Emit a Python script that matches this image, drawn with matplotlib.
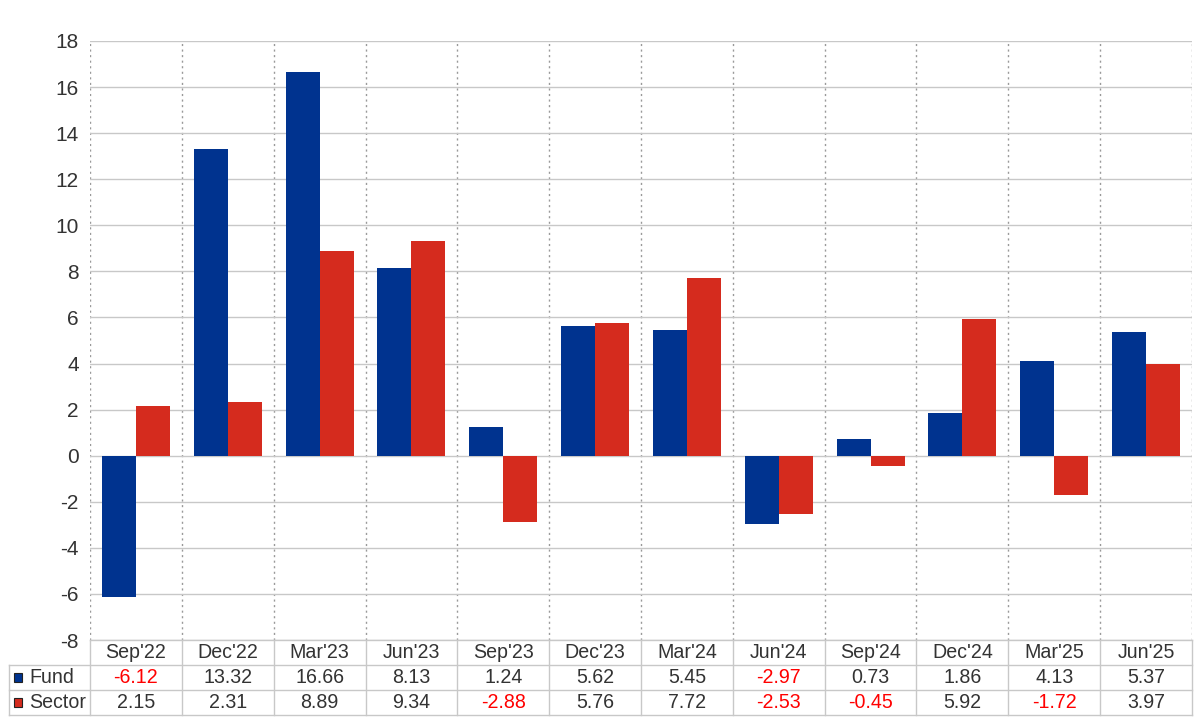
import matplotlib.pyplot as plt
from matplotlib.patches import Rectangle
import numpy as np

plt.rcParams['font.family'] = ['Liberation Sans', 'DejaVu Sans']
plt.rcParams['axes.unicode_minus'] = False

quarters = ["Sep'22", "Dec'22", "Mar'23", "Jun'23", "Sep'23", "Dec'23",
            "Mar'24", "Jun'24", "Sep'24", "Dec'24", "Mar'25", "Jun'25"]
fund = [-6.12, 13.32, 16.66, 8.13, 1.24, 5.62, 5.45, -2.97, 0.73, 1.86, 4.13, 5.37]
sector = [2.15, 2.31, 8.89, 9.34, -2.88, 5.76, 7.72, -2.53, -0.45, 5.92, -1.72, 3.97]
series_names = ['Fund', 'Sector']
series_colors = ['#00338f', '#d52b1e']

grid_col = '#c8c8c8'
text_col = '#333333'
fs = 14.1

fig = plt.figure(figsize=(12, 7.2), dpi=100)
ax = fig.add_axes([90 / 1200, 80 / 720, 1102 / 1200, 599 / 720])

x = np.arange(len(quarters))
w = 0.37
ax.bar(x - w / 2, fund, w, color=series_colors[0], zorder=3)
ax.bar(x + w / 2, sector, w, color=series_colors[1], zorder=3)

ax.set_xlim(-0.5, len(quarters) - 0.5)
ax.set_ylim(-8, 18)
ax.set_yticks(np.arange(-8, 19, 2))
ax.set_xticks([])
ax.set_xticks(np.arange(-0.5, len(quarters)), minor=True)
ax.tick_params(axis='y', length=0, pad=8, labelsize=15, labelcolor=text_col)
ax.tick_params(axis='x', which='minor', length=0)
ax.grid(axis='y', color=grid_col, linewidth=1, zorder=0)
ax.grid(axis='x', which='minor', color='#999999', linestyle=(0, (1.5, 2.5)), linewidth=1, zorder=0)
for s in ax.spines.values():
    s.set_visible(False)

# table under the plot
tax = fig.add_axes([90 / 1200, 5 / 720, 1102 / 1200, 75 / 720])
tax.set_xlim(-0.5, len(quarters) - 0.5)
tax.set_ylim(0, 3)
tax.set_axis_off()
lab_left = -0.5 - 81 / (1102 / 12)

for i, q in enumerate(quarters):
    tax.text(i, 2.5, q, ha='center', va='center', fontsize=fs, color=text_col)
rows = [fund, sector]
for r, vals in enumerate(rows):
    yc = 1.5 - r
    for i, v in enumerate(vals):
        tax.text(i, yc, f'{v:.2f}', ha='center', va='center', fontsize=fs,
                 color='#ff0000' if v < 0 else text_col)
    tax.add_patch(Rectangle((lab_left + 0.055, yc - 0.17), 0.09, 0.34,
                            facecolor=series_colors[r], edgecolor='#222222',
                            linewidth=0.8, clip_on=False))
    tax.text(lab_left + 0.22, yc, series_names[r], ha='left', va='center',
             fontsize=fs, color=text_col, clip_on=False)

lkw = dict(color=grid_col, linewidth=1, clip_on=False)
tax.plot([-0.5, 11.5], [3, 3], **lkw)
for yy in [2, 1, 0]:
    tax.plot([lab_left, 11.5], [yy, yy], **lkw)
for xb in np.arange(-0.5, len(quarters)):
    tax.plot([xb, xb], [0, 3], **lkw)
tax.plot([lab_left, lab_left], [0, 2], **lkw)

fig.savefig('out.png', dpi=100)
